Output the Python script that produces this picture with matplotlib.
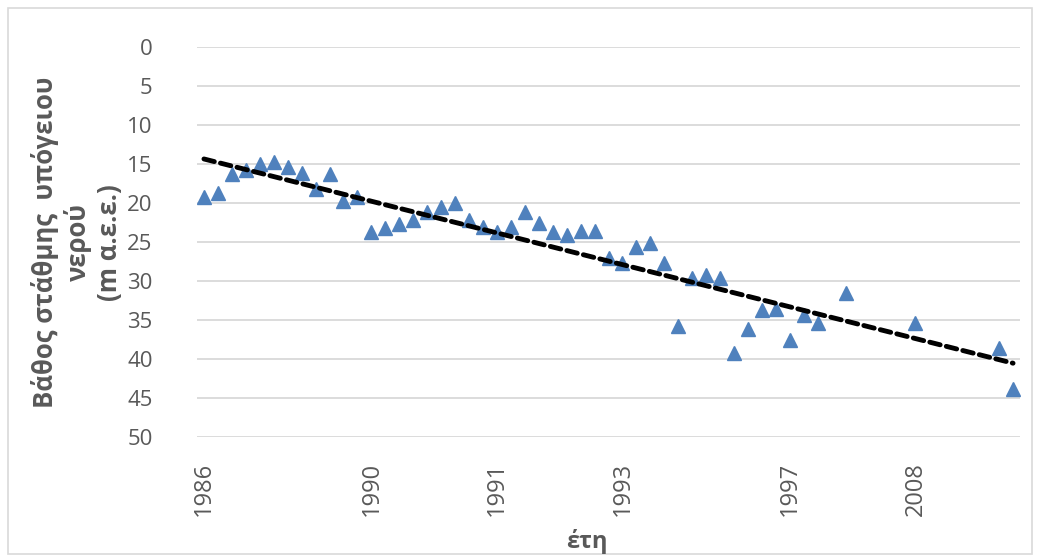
import numpy as np
import matplotlib
matplotlib.use("Agg")
import matplotlib.pyplot as plt
from matplotlib.patches import Rectangle

plt.rcParams['font.family'] = ['Open Sans', 'DejaVu Sans']

# depth of groundwater level (m), one value per category slot, None = blank
depth = [19.2, 18.7, 16.3, 15.8, 15.0, 14.7, 15.4, 16.2, 18.2, 16.3,
         19.7, 19.2, 23.7, 23.2, 22.7, 22.2, 21.2, 20.5, 20.0, 22.2,
         23.1, 23.7, 23.1, 21.2, 22.6, 23.7, 24.1, 23.6, 23.6, 27.1,
         27.7, 25.6, 25.1, 27.7, 35.8, 29.6, 29.2, 29.6, 39.2, 36.2,
         33.7, 33.6, 37.6, 34.4, 35.4, None, 31.5, None, None, None,
         None, 35.4, None, None, None, None, None, 38.6, 43.8]
tick_pos = [0, 12, 21, 30, 42, 51]
tick_labels = ['1986', '1990', '1991', '1993', '1997', '2008']
y_ticks = [0, 5, 10, 15, 20, 25, 30, 35, 40, 45, 50]

idx = np.arange(len(depth))
vals = np.array([np.nan if v is None else v for v in depth])
ok = ~np.isnan(vals)

# linear trendline over the non-blank points
coef = np.polyfit(idx[ok], vals[ok], 1)
trend = np.polyval(coef, idx)

fig = plt.figure(figsize=(10.4, 5.57), dpi=100)
ax = fig.add_axes([0.1894, 0.2154, 0.7914, 0.7002])

ax.plot(idx[ok], vals[ok], linestyle='none', marker='^', markersize=10,
        color='#4F81BD', zorder=3)
ax.plot(idx, trend, color='black', linestyle=(0, (2.2, 1.3)), linewidth=3.5,
        dash_capstyle='round', zorder=4)

ax.set_xlim(-0.5, len(depth) - 0.5)
ax.set_ylim(50, 0)
ax.set_yticks(y_ticks)
ax.set_xticks(tick_pos)
ax.set_xticklabels(tick_labels, rotation=90)
ax.tick_params(length=0, colors='#595959')
ax.tick_params(axis='y', labelsize=16, pad=32)
ax.tick_params(axis='x', labelsize=17, pad=18)
ax.grid(axis='y', color='#D9D9D9', linewidth=1.3)
ax.set_axisbelow(True)
for s in ax.spines.values():
    s.set_visible(False)

# axis titles
fig.text(77 / 1040, 0.565, 'Βάθος στάθμης  υπόγειου\nνερού\n(m α.ε.ε.)',
         rotation=90, ha='center', va='center', multialignment='center',
         fontsize=18.5, fontweight='bold', color='#595959', linespacing=1.2)
fig.text(587 / 1040, 1 - 541 / 557, 'έτη', ha='center', va='center',
         fontsize=17, fontweight='bold', color='#595959')

fig.patches.append(Rectangle((0.008, 0.005), 0.984, 0.98, transform=fig.transFigure,
                             fill=False, edgecolor='#D9D9D9', linewidth=1.2))

fig.savefig('out.png', dpi=100, facecolor='white')
